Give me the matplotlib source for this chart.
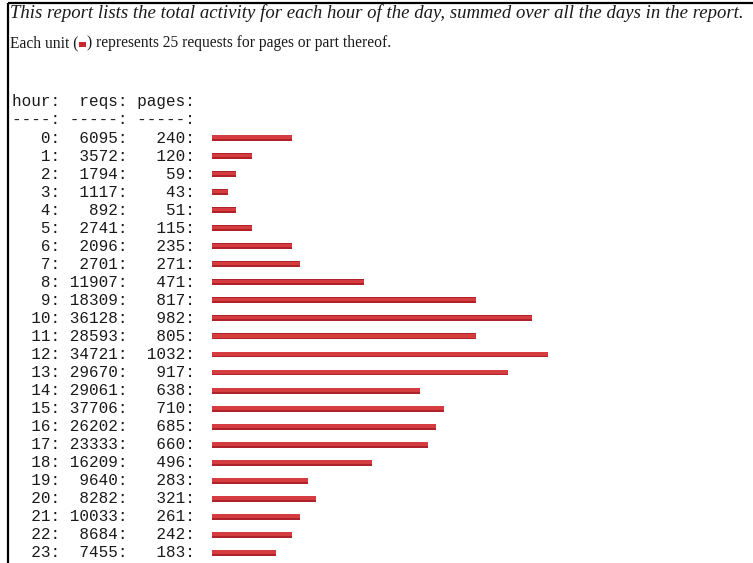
"""Hourly report: requests and pages per hour, with text-style bars."""

import math
import matplotlib
matplotlib.use("Agg")
import matplotlib.pyplot as plt
import matplotlib.transforms as mtransforms

# Data
hours = list(range(24))
reqs = [6095, 3572, 1794, 1117, 892, 2741, 2096, 2701, 11907, 18309,
        36128, 28593, 34721, 29670, 29061, 37706, 26202, 23333, 16209,
        9640, 8282, 10033, 8684, 7455]
pages = [240, 120, 59, 43, 51, 115, 235, 271, 471, 817,
         982, 805, 1032, 917, 638, 710, 685, 660, 496,
         283, 321, 261, 242, 183]
unit = 25  # pages per unit

title = ("This report lists the total activity for each hour of the day, "
         "summed over all the days in the report.")

W, H = 753, 563
fig = plt.figure(figsize=(W / 100, H / 100), dpi=100)
fig.patch.set_facecolor("white")

# pixel axes over the whole figure, for the text and the frame
ax = fig.add_axes([0, 0, 1, 1])
ax.set_xlim(0, W)
ax.set_ylim(H, 0)
ax.axis("off")

# frame lines
ax.plot([8, W], [3, 3], color="black", lw=1.6, solid_capstyle="butt")
ax.plot([8, 8], [3, H], color="black", lw=1.6, solid_capstyle="butt")

serif = "Liberation Serif"
mono = "Liberation Mono"
ink = "#1a1a1a"

ax.text(10, 13, title, family=serif, style="italic", fontsize=13.5,
        va="center", ha="left", color=ink)

# "Each unit (bar) represents ..." line, built from pieces
renderer = fig.canvas.get_renderer()
t1 = ax.text(10, 43, "Each unit (", family=serif, fontsize=11.2,
             va="center", ha="left", color=ink)
bb = t1.get_window_extent(renderer)
x1 = bb.x1 + 1
ax.add_patch(plt.Rectangle((x1, 42), 7, 5, color="#c8282c", lw=0))
ax.text(x1 + 8, 43, ") represents 25 requests for pages or part thereof.",
        family=serif, fontsize=11.2, va="center", ha="left", color=ink)

# bar axes: one row per hour, 8 px per unit, bars starting at x=212
row0, step = 138, 18.04
top = row0 - step / 2
bottom = row0 + step * 23.5
x0 = 212
bx = fig.add_axes([x0 / W, 1 - bottom / H, 520 / W, (bottom - top) / H])
bx.set_xlim(0, 520 / 8)
bx.set_ylim(23.5, -0.5)
bx.axis("off")

units = [math.ceil(p / unit) for p in pages]
bx.barh(hours, units, height=0.33, color="#b0222a", lw=0)
bx.barh([h - 0.04 for h in hours], units, height=0.2, color="#d43c40", lw=0)

# text columns: x in pixels, y in rows
tr = mtransforms.blended_transform_factory(ax.transData, bx.transData)
fs = 11.5
bx.text(12, -2, "hour:  reqs: pages:", transform=tr, family=mono,
        fontsize=fs, va="center", clip_on=False, color=ink)
bx.text(12, -1, "----: -----: -----:", transform=tr, family=mono,
        fontsize=fs, va="center", clip_on=False, color=ink)
for h, r, p in zip(hours, reqs, pages):
    line = f"{h:4d}: {r:5d}: {p:5d}:"
    bx.text(12, h, line, transform=tr, family=mono, fontsize=fs,
            va="center", clip_on=False, color=ink)

fig.savefig("out.png", dpi=100, facecolor="white")
